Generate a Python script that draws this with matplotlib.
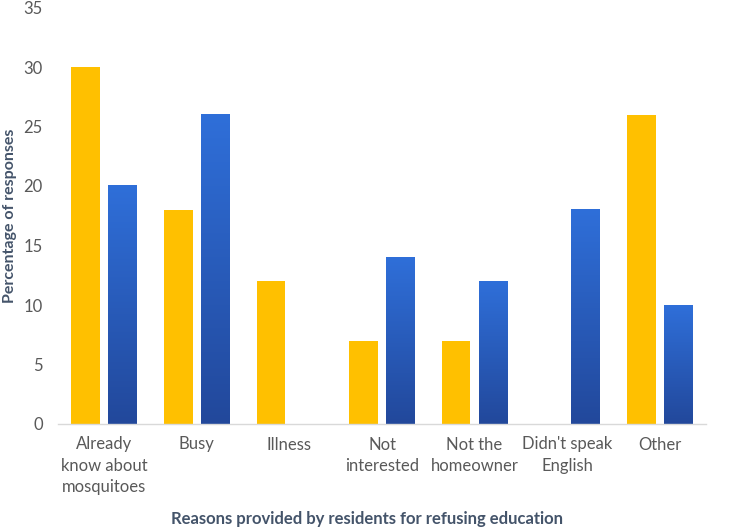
import matplotlib
matplotlib.use("Agg")
import matplotlib.pyplot as plt
import numpy as np
from matplotlib.colors import LinearSegmentedColormap

categories = ["Already\nknow about\nmosquitoes", "Busy", "Illness", "Not\ninterested",
              "Not the\nhomeowner", "Didn't speak\nEnglish", "Other"]
series_a = [30, 18, 12, 7, 7, 0, 26]
series_b = [20, 26, 0, 14, 12, 18, 10]
yticks = [0, 5, 10, 15, 20, 25, 30, 35]

plt.rcParams['font.family'] = ['Lato', 'DejaVu Sans']

fig = plt.figure(figsize=(7.3, 5.3), dpi=100)
left, right, top, bottom = 58, 706, 7.5, 424
ax = fig.add_axes([left / 730, 1 - bottom / 530, (right - left) / 730, (bottom - top) / 530])

x = np.arange(len(categories))
w = 0.31
off = 0.2
ax.bar(x - off, series_a, width=w, color="#FFC000", zorder=2)
bars_b = ax.bar(x + off, series_b, width=w, color="none", zorder=2)

cmap = LinearSegmentedColormap.from_list("bl", ["#22489B", "#2F6FD9"])
grad = np.linspace(0, 1, 256).reshape(-1, 1)
for b, v in zip(bars_b, series_b):
    if v <= 0:
        continue
    x0 = b.get_x()
    ax.imshow(grad, extent=[x0, x0 + b.get_width(), 0, v], origin="lower",
              cmap=cmap, aspect="auto", zorder=2)

ax.set_xlim(-0.5, len(categories) - 0.5)
ax.set_ylim(0, 35)
ax.set_yticks(yticks)
ax.set_xticks(x)
ax.set_xticklabels(categories, fontsize=12, color="#595959", linespacing=1.42)
ax.tick_params(axis="y", labelsize=12, labelcolor="#595959", length=0, pad=11)
ax.tick_params(axis="x", length=0, pad=9)
for s in ["top", "right", "left"]:
    ax.spines[s].set_visible(False)
ax.spines["bottom"].set_color("#D9D9D9")
ax.spines["bottom"].set_linewidth(1)

ax.set_ylabel("Percentage of responses", fontsize=11.5, fontweight="bold", color="#44546A")
ax.yaxis.set_label_coords((10 - left) / (right - left), 0.5)
ax.set_xlabel("Reasons provided by residents for refusing education", fontsize=12,
              fontweight="bold", color="#44546A")
ax.xaxis.set_label_coords((367 - left) / (right - left), -(519 - bottom) / (bottom - top))
ax.xaxis.label.set_va("center")
ax.yaxis.label.set_va("center")

fig.savefig("out.png", dpi=100)
